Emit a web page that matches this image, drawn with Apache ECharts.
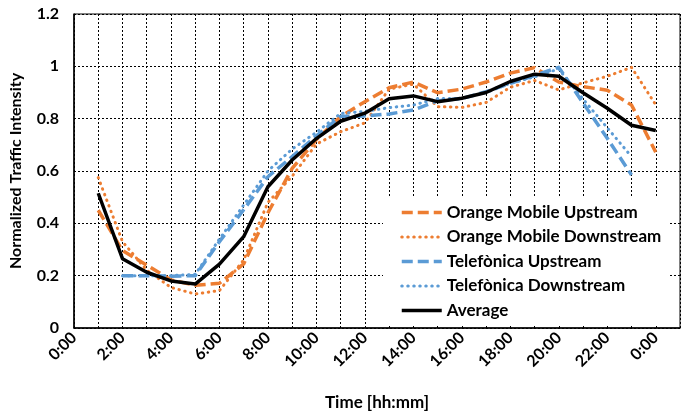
<!DOCTYPE html>
<html>
<head>
<meta charset="utf-8">
<script src="https://cdn.jsdelivr.net/npm/echarts@6/dist/echarts.min.js"></script>
<style>
  html, body { margin: 0; padding: 0; background: #fff; }
  #chart { width: 692px; height: 416px; }
</style>
</head>
<body>
<div id="chart"></div>
<script>
// Hour of day for each sample (24 = midnight of the next day)
const hours = [1, 2, 3, 4, 5, 6, 7, 8, 9, 10, 11, 12, 13, 14, 15, 16, 17, 18, 19, 20, 21, 22, 23, 24];

const orangeUpstream = [0.45, 0.296, 0.24, 0.184, 0.163, 0.171, 0.245, 0.44, 0.61, 0.72, 0.808, 0.865,
  0.918, 0.94, 0.899, 0.913, 0.94, 0.974, 0.995, 0.94, 0.922, 0.909, 0.852, 0.672];
const orangeDownstream = [0.575, 0.33, 0.221, 0.155, 0.13, 0.143, 0.26, 0.48, 0.58, 0.703, 0.75, 0.784,
  0.913, 0.932, 0.846, 0.843, 0.862, 0.92, 0.946, 0.91, 0.937, 0.962, 0.996, 0.853];
const telefonicaUpstream = [null, 0.2, 0.2, 0.198, 0.2, 0.33, 0.452, 0.578, 0.655, 0.734, 0.809, 0.81,
  0.818, 0.833, 0.868, 0.877, 0.903, 0.935, 0.965, 0.996, 0.86, 0.725, 0.585, null];
const telefonicaDownstream = [null, 0.2, 0.2, 0.2, 0.205, 0.34, 0.47, 0.6, 0.684, 0.748, 0.82, 0.828,
  0.842, 0.852, 0.877, 0.877, 0.9, 0.935, 0.96, 0.99, 0.875, 0.765, 0.655, null];
const average = [0.515, 0.265, 0.213, 0.18, 0.168, 0.244, 0.349, 0.54, 0.642, 0.724, 0.79, 0.821,
  0.876, 0.887, 0.865, 0.878, 0.9, 0.942, 0.97, 0.962, 0.899, 0.84, 0.775, 0.755];

const yTicks = [0, 0.2, 0.4, 0.6, 0.8, 1, 1.2];

const ORANGE = '#ED7D31';
const BLUE = '#5B9BD5';
const FONT = 'Lato';

function pairs(values) {
  return hours.map((h, i) => [h, values[i]]);
}

const dashed = [11, 5];
const dotted = [0.5, 5.5];

function lineSeries(name, values, color, width, type, cap) {
  return {
    name: name,
    type: 'line',
    data: pairs(values),
    symbol: 'none',
    connectNulls: false,
    lineStyle: { color: color, width: width, type: type, cap: cap, join: 'round' },
    itemStyle: { color: color }
  };
}

const chart = echarts.init(document.getElementById('chart'), null, { renderer: 'canvas' });

chart.setOption({
  animation: false,
  backgroundColor: '#fff',
  grid: {
    left: 73, right: 12, top: 14, bottom: 82,
    show: true, borderColor: '#000', borderWidth: 1
  },
  xAxis: {
    type: 'value',
    min: 0, max: 25, interval: 1,
    name: 'Time [hh:mm]',
    nameLocation: 'middle',
    nameGap: 66,
    nameTextStyle: { fontFamily: FONT, fontWeight: 'bold', fontSize: 17, color: '#000' },
    axisLine: { show: true, lineStyle: { color: '#000', width: 1.5 } },
    axisTick: { show: false },
    axisLabel: {
      rotate: 45,
      margin: 7,
      fontFamily: FONT, fontWeight: 'bold', fontSize: 16, color: '#000',
      showMaxLabel: false,
      formatter: v => (v % 2 === 0 && v <= 24) ? (v % 24) + ':00' : ''
    },
    splitLine: { show: true, lineStyle: { color: '#000', width: 1, type: [2, 2] } }
  },
  yAxis: {
    type: 'value',
    min: yTicks[0], max: yTicks[yTicks.length - 1], interval: 0.2,
    name: 'Normalized Traffic Intensity',
    nameLocation: 'middle',
    nameGap: 50,
    nameTextStyle: { fontFamily: FONT, fontWeight: 'bold', fontSize: 16, color: '#000' },
    axisLine: { show: true, lineStyle: { color: '#000', width: 1.5 } },
    axisTick: { show: false },
    axisLabel: {
      margin: 15,
      fontFamily: FONT, fontWeight: 'bold', fontSize: 16, color: '#000',
      formatter: v => String(Math.round(v * 10) / 10)
    },
    splitLine: { show: true, lineStyle: { color: '#000', width: 1, type: [2, 2] } }
  },
  legend: {
    orient: 'vertical',
    left: 383, top: 197,
    backgroundColor: '#fff',
    padding: [7, 8, 5, 17],
    itemGap: 7.5,
    itemWidth: 40,
    itemHeight: 14,
    itemStyle: { opacity: 0 },
    lineStyle: { width: 'inherit' },
    textStyle: { fontFamily: FONT, fontWeight: 'bold', fontSize: 17, color: '#000' },
    data: ['Orange Mobile Upstream', 'Orange Mobile Downstream', 'Telefònica Upstream', 'Telefònica Downstream', 'Average']
  },
  series: [
    lineSeries('Orange Mobile Upstream', orangeUpstream, ORANGE, 3.5, dashed, 'butt'),
    lineSeries('Orange Mobile Downstream', orangeDownstream, ORANGE, 3, dotted, 'round'),
    lineSeries('Telefònica Upstream', telefonicaUpstream, BLUE, 3.5, dashed, 'butt'),
    lineSeries('Telefònica Downstream', telefonicaDownstream, BLUE, 3, dotted, 'round'),
    lineSeries('Average', average, '#000', 3.5, 'solid', 'butt')
  ]
});
</script>
</body>
</html>
